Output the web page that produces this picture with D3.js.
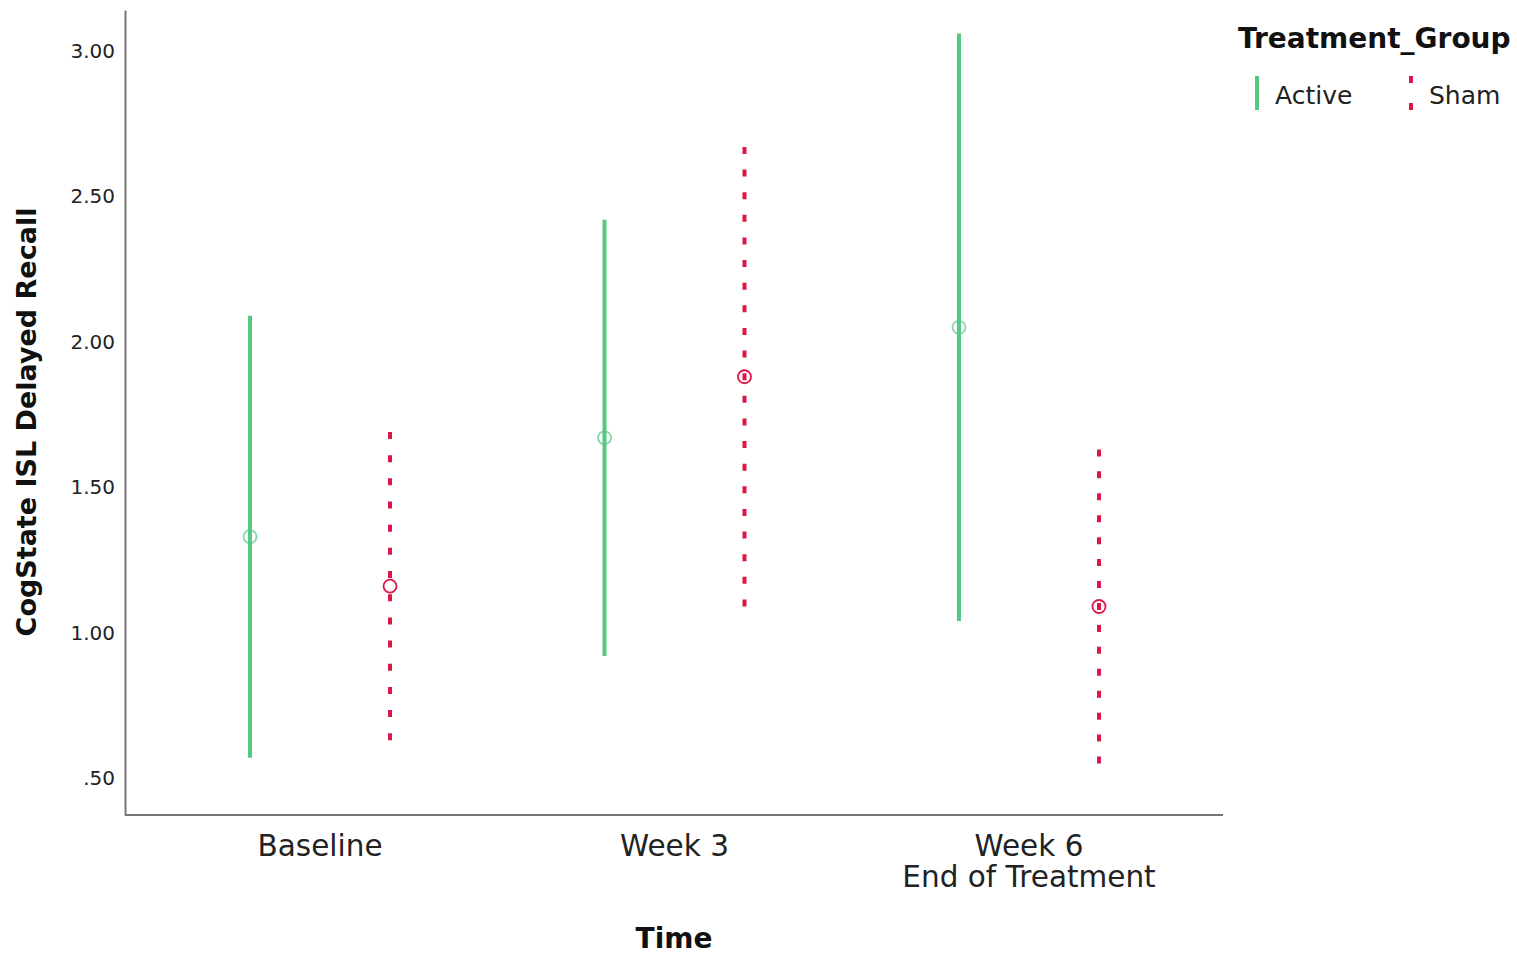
<!DOCTYPE html>
<html><head><meta charset="utf-8">
<script src="https://cdn.jsdelivr.net/npm/d3@7/dist/d3.min.js"></script>
<style>body{margin:0;background:#fff}svg{display:block}</style>
</head><body>
<svg id="chart" width="1517" height="956"></svg>
<script>
const categories = ["Baseline", "Week 3", "Week 6\nEnd of Treatment"];
const groups = ["Active", "Sham"];
const activeMean = [1.33, 1.67, 2.05];
const activeLow  = [0.57, 0.92, 1.04];
const activeHigh = [2.09, 2.42, 3.06];
const shamMean = [1.16, 1.88, 1.09];
const shamLow  = [0.63, 1.09, 0.55];
const shamHigh = [1.69, 2.67, 1.63];
const yTicks = [0.5, 1.0, 1.5, 2.0, 2.5, 3.0];

const colors = {Active: "#55c883", Sham: "#dc1647"};
const svg = d3.select("#chart");
const font = "'DejaVu Sans', sans-serif";
const L = 125, R = 1223, T = 10, B = 815;

const y = d3.scaleLinear().domain([0.373, 3.141]).range([B, T]);
const x = d3.scalePoint().domain(categories).range([320, 1029]);
const xs = d3.scalePoint().domain(groups).range([-70, 70]);

// fit a dotted pattern so both ends carry a dash
function fitDash(len, dash, period) {
  const n = Math.max(1, Math.round((len - dash) / period));
  const gap = (len - dash * (n + 1)) / n;
  return `${dash},${gap}`;
}

// axes
const yAxis = svg.append("g").attr("transform", `translate(${L},0)`)
  .call(d3.axisLeft(y).tickValues(yTicks).tickSize(0).tickPadding(10)
    .tickFormat(d => d < 1 ? d3.format(".2f")(d).replace(/^0/, "") : d3.format(".2f")(d)));
yAxis.select(".domain").attr("stroke", "#777").attr("stroke-width", 2);
yAxis.selectAll("text").attr("font-family", font).attr("font-size", 20).attr("fill", "#222");

const xAxis = svg.append("g").attr("transform", `translate(0,${B})`);
xAxis.append("line").attr("x1", L).attr("x2", R).attr("stroke", "#777").attr("stroke-width", 2);
categories.forEach(d => {
  const lines = d.split("\n");
  const t = xAxis.append("text").attr("fill", "#222").attr("transform", `translate(${x(d)},0)`)
    .attr("font-family", font).attr("font-size", 29.5).attr("text-anchor", "middle");
  lines.forEach((ln, i) => t.append("tspan").attr("x", 0).attr("y", 41 + i * 31).text(ln));
});

// series
const series = [
  {g: "Active", mean: activeMean, lo: activeLow, hi: activeHigh, dotted: false},
  {g: "Sham", mean: shamMean, lo: shamLow, hi: shamHigh, dotted: true}
];
series.forEach(s => {
  const cx = i => x(categories[i]) + xs(s.g);
  const gg = svg.append("g");
  gg.selectAll("line").data(categories).join("line")
    .attr("x1", (d, i) => cx(i)).attr("x2", (d, i) => cx(i))
    .attr("y1", (d, i) => y(s.lo[i])).attr("y2", (d, i) => y(s.hi[i]))
    .attr("stroke", colors[s.g]).attr("stroke-width", 4)
    .attr("stroke-dasharray", (d, i) => s.dotted ? fitDash(y(s.lo[i]) - y(s.hi[i]), 7, 22.5) : null);
  gg.selectAll("circle").data(categories).join("circle")
    .attr("cx", (d, i) => cx(i)).attr("cy", (d, i) => y(s.mean[i])).attr("r", 6.5)
    .attr("fill", "none").attr("stroke", colors[s.g]).attr("stroke-width", 1.8)
    .attr("opacity", s.g === "Active" ? 0.7 : 1);
});

// axis titles
svg.append("text").attr("transform", `translate(36,${412 + 10}) rotate(-90)`)
  .attr("text-anchor", "middle").attr("font-family", font).attr("font-weight", "bold")
  .attr("font-size", 27).attr("fill", "#111").text("CogState ISL Delayed Recall");
svg.append("text").attr("x", 674).attr("y", 948)
  .attr("text-anchor", "middle").attr("font-family", font).attr("font-weight", "bold")
  .attr("font-size", 28).attr("fill", "#111").text("Time");

// legend
const lg = svg.append("g");
lg.append("text").attr("x", 1238).attr("y", 48).attr("font-family", font).attr("font-weight", "bold")
  .attr("font-size", 28).attr("fill", "#111").text("Treatment_Group");
const legendItems = [
  {g: "Active", x: 1257, dotted: false},
  {g: "Sham", x: 1411, dotted: true}
];
legendItems.forEach(it => {
  lg.append("line").attr("x1", it.x).attr("x2", it.x).attr("y1", 76).attr("y2", 110)
    .attr("stroke", colors[it.g]).attr("stroke-width", 4)
    .attr("stroke-dasharray", it.dotted ? "7,20" : null);
  lg.append("text").attr("x", it.x + 18).attr("y", 104).attr("font-family", font)
    .attr("font-size", 25).attr("fill", "#222").text(it.g);
});
</script>
</body></html>
